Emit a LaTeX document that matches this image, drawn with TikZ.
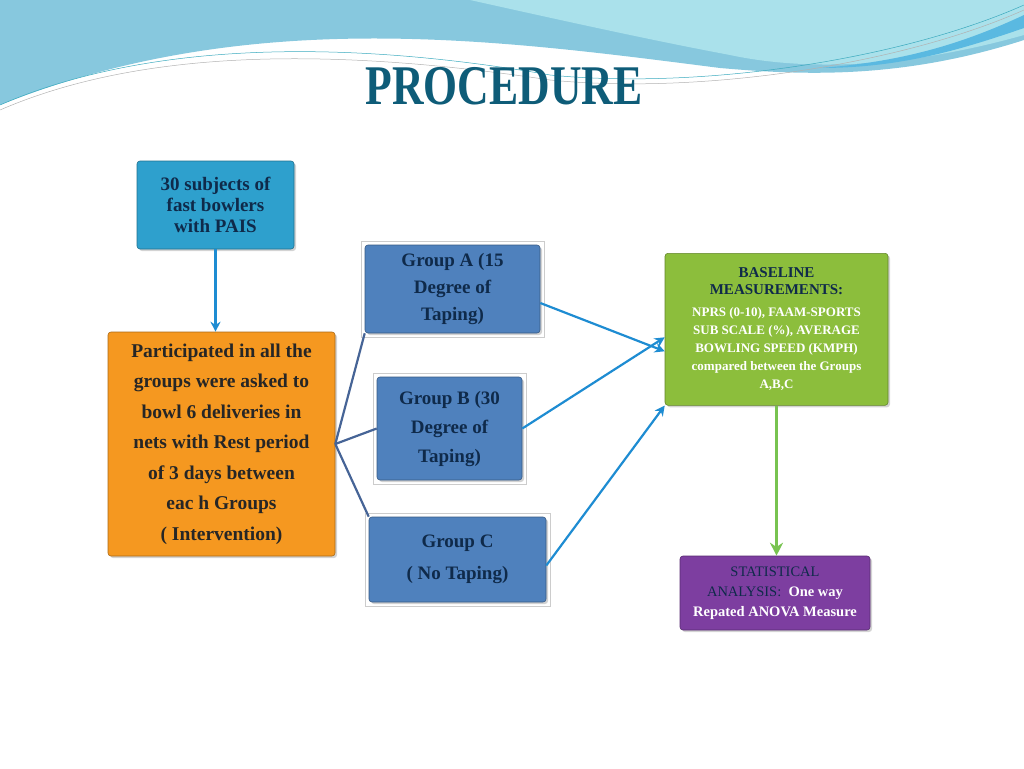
\documentclass[tikz,border=0pt]{standalone}
\usepackage{fontspec}
\setmainfont{Liberation Serif}
\usetikzlibrary{arrows.meta,shadows}
\definecolor{navy}{HTML}{0F2A4A}
\definecolor{title}{HTML}{0E5C78}
\definecolor{ban1}{RGB}{135,200,222}
\definecolor{ban2}{RGB}{170,225,235}
\definecolor{ban3}{RGB}{90,185,225}
\definecolor{banl}{RGB}{60,170,190}
\definecolor{arrb}{RGB}{30,140,210}
\definecolor{lineb}{RGB}{70,100,150}
\definecolor{cbox}{RGB}{46,160,205}
\definecolor{obox}{RGB}{245,152,32}
\definecolor{bbox}{RGB}{79,129,189}
\definecolor{gbox}{RGB}{140,190,60}
\definecolor{vbox}{RGB}{125,62,160}
\definecolor{garr}{RGB}{120,195,80}
\tikzset{
 box/.style={draw=#1!70!black, line width=0.6pt, rounded corners=3pt, align=center, font=\bfseries, inner sep=2pt, drop shadow={shadow xshift=2pt,shadow yshift=-2pt,opacity=0.35}},
 frame/.style={draw=gray!40, fill=white, line width=0.5pt},
 barrow/.style={draw=arrb, line width=2.2pt, -{Stealth[length=10pt,width=10pt]}},
 bline/.style={draw=lineb, line width=2.2pt},
}
\begin{document}
\begin{tikzpicture}[x=1pt,y=-1pt]
\useasboundingbox (0,0) rectangle (1024,768);
% banner
\fill[ban1] (0,0) -- (1024,0) -- (1024,40) .. controls (900,80) and (800,75) .. (720,68) .. controls (500,40) and (250,5) .. (0,105) -- cycle;
\fill[ban2] (470,0) -- (1024,0) -- (1024,35) .. controls (900,70) and (800,70) .. (730,55) .. controls (650,40) and (560,20) .. (470,0) -- cycle;
\fill[ban3] (1024,15) .. controls (960,45) and (900,62) .. (820,68) .. controls (900,68) and (960,50) .. (1024,28) -- cycle;
\draw[banl, line width=0.5pt] (0,105) .. controls (150,40) and (350,40) .. (550,75) .. controls (700,90) and (900,60) .. (1024,5);
\draw[gray!60, line width=0.5pt] (0,110) .. controls (150,45) and (350,50) .. (550,80) .. controls (700,95) and (900,65) .. (1024,10);
\node[font=\bfseries\fontsize{56}{56}\selectfont, text=title, xscale=0.78] (t) at (504,86) {PROCEDURE};
% nodes
\node[box=cbox, fill=cbox, text=navy, minimum width=157, minimum height=88, font=\bfseries\fontsize{19}{21}\selectfont] (s) at (215.5,205) {30 subjects of\\fast bowlers\\with PAIS};
\node[box=obox, fill=obox, text=black!85, minimum width=227, minimum height=224, font=\bfseries\fontsize{19.5}{30.5}\selectfont] (p) at (221.5,444) {Participated in all the\\groups were asked to\\bowl 6 deliveries in\\nets with Rest period\\of 3 days between\\eac h Groups\\( Intervention)};
\draw[frame] (361,241) rectangle (544,337);
\node[box=bbox, fill=bbox, text=navy, minimum width=175, minimum height=88, font=\bfseries\fontsize{19}{27}\selectfont] (a) at (452.5,289) {Group A (15\\Degree of\\Taping)};
\draw[frame] (373,373) rectangle (526,484);
\node[box=bbox, fill=bbox, text=navy, minimum width=145, minimum height=103, font=\bfseries\fontsize{19}{29}\selectfont] (b) at (449.5,428.5) {Group B (30\\Degree of\\Taping)};
\draw[frame] (365,513) rectangle (550,606);
\node[box=bbox, fill=bbox, text=navy, minimum width=177, minimum height=85, font=\bfseries\fontsize{19}{32}\selectfont] (c) at (457.5,559.5) {Group C\\( No Taping)};
\node[box=gbox, fill=gbox, text=white, minimum width=223, minimum height=152, font=\fontsize{13}{18}\selectfont, anchor=north] (m) at (776.5,253) {\textcolor{navy}{\fontsize{15}{19}\selectfont\bfseries BASELINE}\\[-1pt]\textcolor{navy}{\fontsize{15}{19}\selectfont\bfseries MEASUREMENTS:}\\[4pt]\bfseries NPRS (0-10), FAAM-SPORTS\\\bfseries SUB SCALE (\%), AVERAGE\\\bfseries BOWLING SPEED (KMPH)\\\bfseries compared between the Groups\\\bfseries A,B,C};
\node[box=vbox, fill=vbox, text=white, minimum width=190, minimum height=74, font=\bfseries\fontsize{14.5}{20}\selectfont] (r) at (775,593) {\textcolor{navy}{\mdseries STATISTICAL}\\\textcolor{navy}{\mdseries ANALYSIS:}\ \ One way\\Repated ANOVA Measure};
% connectors
\draw[barrow] (s.south) -- (s.south|-p.north);
\coordinate (pj) at (p.east);
\draw[bline] (pj) -- (a.south west);
\draw[bline] (pj) -- (b.west);
\draw[bline] (pj) -- (c.north west);
\draw[barrow] ([yshift=-14pt]a.east) -- ([yshift=-22pt]m.west);
\draw[barrow] (b.east) -- ([yshift=-8pt]m.west);
\draw[barrow] ([yshift=-6pt]c.east) -- (m.south west);
\draw[draw=garr, line width=3pt, -{Stealth[length=13pt,width=13pt]}] (m.south) -- (m.south|-r.north);
\end{tikzpicture}
\end{document}
